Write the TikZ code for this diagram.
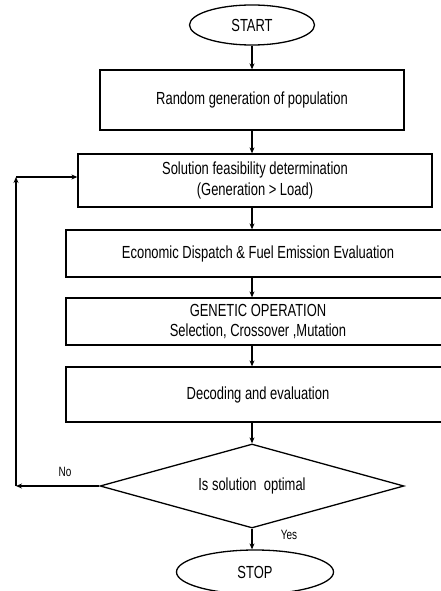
\documentclass[tikz,border=0pt]{standalone}
\usepackage{fontspec}
\setmainfont[FakeStretch=0.74]{Liberation Sans}
\usetikzlibrary{shapes.geometric,arrows.meta}
\tikzset{
  box/.style={draw, line width=1.3pt, rectangle, align=center, inner sep=0pt, font=\fontsize{17.5}{20.5}\selectfont},
  term/.style={draw, line width=1.3pt, ellipse, inner sep=0pt, font=\fontsize{17.5}{20.5}\selectfont},
  deci/.style={draw, line width=1.3pt, diamond, shape aspect=3.6, inner sep=0pt, font=\fontsize{17.5}{20.5}\selectfont},
  arr/.style={line width=1.3pt, -{Stealth[length=6pt,width=5pt]}},
  lab/.style={font=\fontsize{13.5}{15}\selectfont}
}
\begin{document}
\begin{tikzpicture}[x=1pt,y=-1pt]
\useasboundingbox (0,0) rectangle (441,591);
\clip (0,0) rectangle (441,591);
\fill[white] (0,0) rectangle (441,591);
\node[term, minimum width=125, minimum height=40] (start) at (252,25) {START};
\node[box, minimum width=304, minimum height=60] (b1) at (252,100) {Random generation of population};
\node[box, minimum width=354, minimum height=53] (b2) at (255,180.5) {Solution feasibility determination\\(Generation > Load)};
\node[box, minimum width=384, minimum height=47] (b3) at (258,253.5) {Economic Dispatch \& Fuel Emission Evaluation};
\node[box, minimum width=384, minimum height=47] (b4) at (258,321.5) {GENETIC OPERATION\\Selection, Crossover ,Mutation};
\node[box, minimum width=384, minimum height=55] (b5) at (258,394.5) {Decoding and evaluation};
\node[deci, minimum width=304, minimum height=84] (d) at (252,486) {Is solution\ \ optimal};
\node[term, minimum width=157, minimum height=44] (stop) at (255,572) {STOP};
\coordinate (nl) at (16,486);
\coordinate (nt) at (16,177);
\draw[arr] (start.south) -- (b1.north);
\draw[arr] (b1.south) -- (b1.south |- b2.north);
\draw[arr] (b1.south |- b2.south) -- (b1.south |- b3.north);
\draw[arr] (b1.south |- b3.south) -- (b1.south |- b4.north);
\draw[arr] (b1.south |- b4.south) -- (b1.south |- b5.north);
\draw[arr] (b1.south |- b5.south) -- (d.north);
\draw[arr] (d.south) -- (d.south |- stop.north);
\draw[arr] (d.west) -- (nl);
\draw[arr] (nl) -- (nt);
\draw[arr] (nt) -- (nt -| b2.west);
\node[lab] (no) at (65,472) {No};
\node[lab] (yes) at (289,535) {Yes};
\end{tikzpicture}
\end{document}
